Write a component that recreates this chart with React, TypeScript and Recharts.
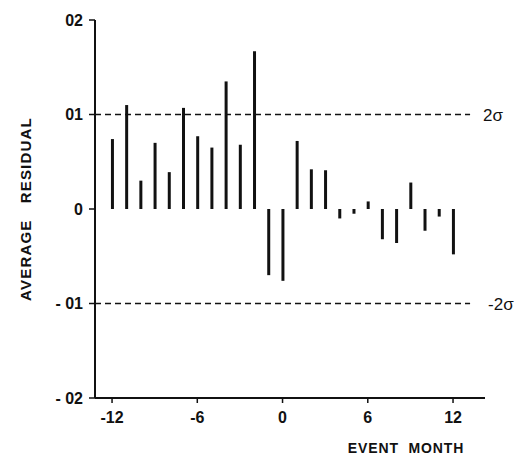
import React from 'react';
import { ComposedChart, Bar, XAxis, YAxis, ReferenceLine } from 'recharts';

const months = [-12, -11, -10, -9, -8, -7, -6, -5, -4, -3, -2, -1, 0, 1, 2, 3, 4, 5, 6, 7, 8, 9, 10, 11, 12];
const residuals = [0.0074, 0.011, 0.003, 0.007, 0.0039, 0.0107, 0.0077, 0.0065, 0.0135, 0.0068, 0.0167, -0.007, -0.0076, 0.0072, 0.0042, 0.0041, -0.001, -0.0005, 0.0008, -0.0032, -0.0036, 0.0028, -0.0023, -0.0008, -0.0048];
const xTicks = [-12, -6, 0, 6, 12];
const xTickLabels = ['-12', '-6', '0', '6', '12'];
const yTicks = [-0.02, -0.01, 0, 0.01, 0.02];
const yTickLabels = ['- 02', '- 01', '0', '01', '02'];
const sigmaLevels = [0.01, -0.01];
const sigmaLabels = ['2\u03C3', '-2\u03C3'];

const data = months.map((m, i) => ({ month: m, value: residuals[i] }));

const FONT = '"Liberation Sans", Arial, sans-serif';
const INK = '#111';

const YLabel = (props: any) => {
  const vb = props.viewBox || { x: 0, y: 0, width: 95, height: 378 };
  const cx = 25;
  const cy = vb.y + vb.height / 2;
  return (
    <text
      x={cx}
      y={cy}
      transform={`rotate(-90, ${cx}, ${cy})`}
      textAnchor="middle"
      dominantBaseline="central"
      fontFamily={FONT}
      fontWeight="bold"
      fontSize={15}
      letterSpacing={1.2}
      fill={INK}
    >
      AVERAGE{'\u00A0\u00A0\u00A0'}RESIDUAL
    </text>
  );
};

const XLabel = () => {
  return (
    <text
      x={406}
      y={453}
      textAnchor="middle"
      fontFamily={FONT}
      fontWeight="bold"
      fontSize={14}
      letterSpacing={0.9}
      fill={INK}
    >
      EVENT{'\u00A0\u00A0'}MONTH
    </text>
  );
};

export default function App() {
  return (
    <div style={{ position: 'absolute', left: 0, top: 0, background: '#fff' }}>
      <ComposedChart
        width={526}
        height={456}
        data={data}
        margin={{ top: 20, right: 41, left: 0, bottom: 0 }}
      >
        <XAxis
          dataKey="month"
          type="number"
          domain={[-13.2, 14.25]}
          allowDataOverflow
          ticks={xTicks}
          tickFormatter={(v: number) => xTickLabels[xTicks.indexOf(v)] ?? String(v)}
          height={58}
          tickSize={5}
          tickMargin={9}
          axisLine={{ stroke: INK, strokeWidth: 2 }}
          tickLine={{ stroke: INK, strokeWidth: 1.5 }}
          tick={{ fill: INK, fontFamily: FONT, fontWeight: 'bold', fontSize: 16 }}
          label={<XLabel />}
        />
        <YAxis
          type="number"
          domain={[-0.02, 0.02]}
          ticks={yTicks}
          allowDataOverflow
          tickFormatter={(v: number) => {
            const i = yTicks.findIndex((t) => Math.abs(t - v) < 1e-9);
            return i >= 0 ? yTickLabels[i] : '';
          }}
          width={95}
          tickSize={6}
          tickMargin={6}
          axisLine={{ stroke: INK, strokeWidth: 2 }}
          tickLine={{ stroke: INK, strokeWidth: 1.5 }}
          tick={{ fill: INK, fontFamily: FONT, fontWeight: 'bold', fontSize: 16 }}
          label={<YLabel />}
        />
        {sigmaLevels.map((lvl, i) => (
          <ReferenceLine
            key={i}
            segment={[
              { x: -13.2, y: lvl },
              { x: 13.2, y: lvl },
            ]}
            stroke={INK}
            strokeWidth={1.5}
            strokeDasharray="6 4"
            ifOverflow="visible"
            label={{
              value: sigmaLabels[i],
              position: 'right',
              offset: i === 0 ? 13 : 18,
              fill: INK,
              fontFamily: FONT,
              fontSize: 17,
            }}
          />
        ))}
        <Bar dataKey="value" fill={INK} barSize={3} isAnimationActive={false} />
      </ComposedChart>
    </div>
  );
}
